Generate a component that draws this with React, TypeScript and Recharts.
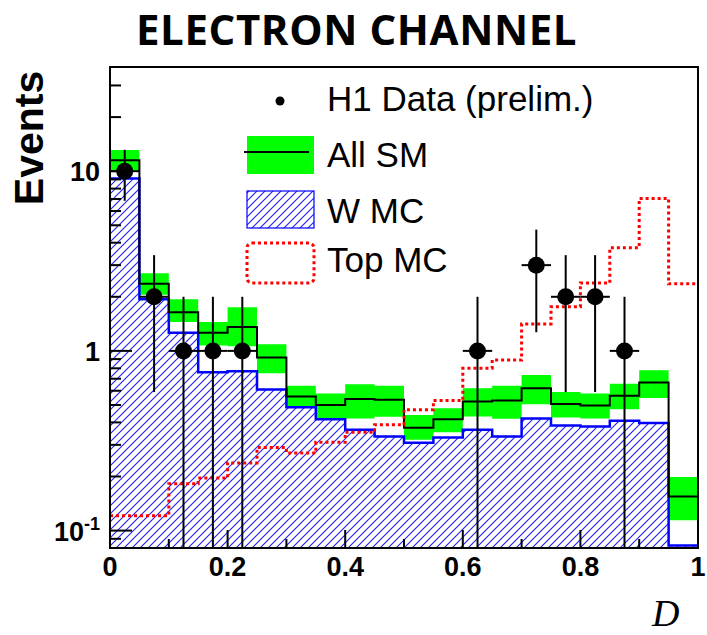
import {
  ComposedChart,
  Area,
  Line,
  Scatter,
  ErrorBar,
  XAxis,
  YAxis,
  ReferenceArea,
} from 'recharts';

// bin edges in D (20 bins of 0.05)
const edges = [0, 0.05, 0.1, 0.15, 0.2, 0.25, 0.3, 0.35, 0.4, 0.45, 0.5, 0.55, 0.6, 0.65, 0.7, 0.75, 0.8, 0.85, 0.9, 0.95, 1.0];

// All SM prediction and its uncertainty band
const allSM = [11.5, 2.36, 1.64, 1.26, 1.36, 0.92, 0.557, 0.5, 0.54, 0.535, 0.373, 0.417, 0.523, 0.53, 0.62, 0.507, 0.497, 0.562, 0.667, 0.155];
const bandLo = [9.9, 2.05, 1.45, 1.07, 1.06, 0.75, 0.486, 0.42, 0.42, 0.43, 0.32, 0.353, 0.432, 0.419, 0.505, 0.426, 0.42, 0.474, 0.546, 0.114];
const bandHi = [13.1, 2.7, 1.94, 1.45, 1.75, 1.09, 0.64, 0.58, 0.653, 0.64, 0.44, 0.48, 0.62, 0.64, 0.735, 0.59, 0.58, 0.656, 0.78, 0.199];

// W MC and Top MC
const wMC = [9.1, 1.94, 1.26, 0.76, 0.77, 0.61, 0.485, 0.417, 0.364, 0.334, 0.308, 0.33, 0.364, 0.334, 0.42, 0.385, 0.38, 0.408, 0.397, 0.0826];
const topMC = [0.121, 0.121, 0.182, 0.196, 0.238, 0.29, 0.27, 0.31, 0.352, 0.388, 0.47, 0.53, 0.8, 0.89, 1.41, 1.76, 2.39, 3.75, 7.05, 2.36];

// H1 data (bin centres), errors; single events reach the axis floor
const dataX = [0.025, 0.075, 0.125, 0.175, 0.225, 0.625, 0.725, 0.775, 0.825, 0.875];
const dataY = [10, 2, 1, 1, 1, 1, 3, 2, 2, 1];
const errLo = [3.16, 1.41, 0.92, 0.92, 0.92, 0.92, 1.73, 1.41, 1.41, 0.92];
const errHi = [3.16, 1.41, 1, 1, 1, 1, 1.73, 1.41, 1.41, 1];
const halfBin = 0.025;

// axis ticks
const xTicks = [0, 0.1, 0.2, 0.3, 0.4, 0.5, 0.6, 0.7, 0.8, 0.9, 1];
const xMajor = [0, 0.2, 0.4, 0.6, 0.8, 1];
const xLabels = ['0', '0.2', '0.4', '0.6', '0.8', '1'];
const yTicks = [0.09, 0.1, 0.2, 0.3, 0.4, 0.5, 0.6, 0.7, 0.8, 0.9, 1, 2, 3, 4, 5, 6, 7, 8, 9, 10, 20, 30];
const yMajor = [0.1, 1, 10];

const rows = edges.map((x, i) => {
  const k = Math.min(i, allSM.length - 1);
  return { x, sm: allSM[k], band: [bandLo[k], bandHi[k]], w: wMC[k], top: topMC[k] };
});

const points = dataX.map((x, i) => ({
  x,
  y: dataY[i],
  ey: [errLo[i], errHi[i]],
  ex: [halfBin, halfBin],
}));

const tickFont = { fontFamily: '"Liberation Sans", Arial, sans-serif', fontWeight: 700, fontSize: 27 };

function XTick({ x, y, payload }: any) {
  const idx = xMajor.indexOf(payload.value);
  const major = idx >= 0;
  return (
    <g>
      <line x1={x} x2={x} y1={y} y2={y - (major ? 18 : 9)} stroke="#000" strokeWidth={2} />
      {major && (
        <text x={x} y={y + 28} textAnchor="middle" fill="#000" style={tickFont}>
          {xLabels[idx]}
        </text>
      )}
    </g>
  );
}

function YTick({ x, y, payload }: any) {
  const v = payload.value;
  const major = yMajor.includes(v);
  let label: any = null;
  if (v === 10) label = '10';
  if (v === 1) label = '1';
  if (v === 0.1)
    label = (
      <>
        <tspan>10</tspan>
        <tspan dy={-11} fontSize={18}>-1</tspan>
      </>
    );
  return (
    <g>
      <line x1={x} x2={x + (major ? 22 : 11)} y1={y} y2={y} stroke="#000" strokeWidth={2} />
      {label && (
        <text x={x - 10} y={y + 10} textAnchor="end" fill="#000" style={tickFont}>
          {label}
        </text>
      )}
    </g>
  );
}

const Dot = (p: any) => <circle cx={p.cx} cy={p.cy} r={8.5} fill="#000" />;

function Overlay() {
  const legendFont = { fontFamily: '"Liberation Sans", Arial, sans-serif', fontSize: 35 };
  return (
    <svg width={707} height={635} style={{ position: 'absolute', left: 0, top: 0, pointerEvents: 'none' }}>
      <defs>
        <pattern id="hatchW" patternUnits="userSpaceOnUse" width={8} height={8}>
          <path d="M0,8 L8,0 M-2,2 L2,-2 M6,10 L10,6" fill="none" stroke="#1f1fff" strokeWidth={1.1} />
        </pattern>
      </defs>
      <text x={136} y={45} style={{ fontFamily: '"Open Sans", sans-serif', fontWeight: 700, fontSize: 42, letterSpacing: 0.6 }} fill="#000">
        ELECTRON CHANNEL
      </text>
      <text
        x={43}
        y={138}
        textAnchor="middle"
        transform="rotate(-90, 43, 138)"
        style={{ fontFamily: '"Liberation Sans", Arial, sans-serif', fontWeight: 700, fontSize: 41 }}
        fill="#000"
      >
        Events
      </text>
      <text x={652} y={626} style={{ fontFamily: '"Liberation Serif", serif', fontStyle: 'italic', fontSize: 38 }} fill="#000">
        D
      </text>

      {/* legend */}
      <circle cx={280} cy={101} r={4.5} fill="#000" />
      <text x={327} y={111} style={legendFont} fill="#000">H1 Data (prelim.)</text>

      <rect x={247} y={136} width={67} height={38} fill="#00ff00" />
      <line x1={244} x2={309} y1={152} y2={152} stroke="#000" strokeWidth={2} />
      <text x={327} y={167} style={legendFont} fill="#000">All SM</text>

      <rect x={247} y={191} width={67} height={37} fill="url(#hatchW)" stroke="#0000ff" strokeWidth={1.2} />
      <text x={327} y={223} style={legendFont} fill="#000">W MC</text>

      <rect x={247} y={243} width={67} height={40} rx={5} fill="none" stroke="#ff0000" strokeWidth={3} strokeDasharray="3 3" />
      <text x={327} y={272} style={legendFont} fill="#000">Top MC</text>
    </svg>
  );
}

export default function App() {
  return (
    <div style={{ position: 'absolute', left: 0, top: 0, width: 707, height: 635, background: '#fff' }}>
      <ComposedChart width={707} height={635} data={rows} margin={{ top: 67, right: 9, bottom: 0, left: 0 }}>
        <XAxis
          dataKey="x"
          type="number"
          domain={[0, 1]}
          ticks={xTicks}
          interval={0}
          tickSize={0}
          tickMargin={0}
          tick={<XTick />}
          height={87}
          axisLine={{ stroke: '#000', strokeWidth: 2 }}
          allowDataOverflow
        />
        <YAxis
          type="number"
          scale="log"
          domain={[0.08, 38]}
          ticks={yTicks}
          interval={0}
          tickSize={0}
          tickMargin={0}
          tick={<YTick />}
          width={110}
          axisLine={{ stroke: '#000', strokeWidth: 2 }}
          allowDataOverflow
        />
        <Area type="stepAfter" dataKey="band" stroke="none" fill="#00ff00" fillOpacity={1} dot={false} activeDot={false} isAnimationActive={false} />
        <Area type="stepAfter" dataKey="w" stroke="#0000ff" strokeWidth={2.5} fill="url(#hatchW)" fillOpacity={1} dot={false} activeDot={false} isAnimationActive={false} />
        <Line type="stepAfter" dataKey="sm" stroke="#000" strokeWidth={2} dot={false} activeDot={false} isAnimationActive={false} />
        <Line type="stepAfter" dataKey="top" stroke="#ff0000" strokeWidth={3} strokeDasharray="3 3" dot={false} activeDot={false} isAnimationActive={false} />
        <Scatter data={points} dataKey="y" shape={Dot} isAnimationActive={false}>
          <ErrorBar dataKey="ey" direction="y" width={0} stroke="#000" strokeWidth={2} isAnimationActive={false} />
          <ErrorBar dataKey="ex" direction="x" width={0} stroke="#000" strokeWidth={2} isAnimationActive={false} />
        </Scatter>
        <ReferenceArea x1={0} x2={1} y1={0.08} y2={38} fill="none" stroke="#000" strokeWidth={2} ifOverflow="visible" />
      </ComposedChart>
      <Overlay />
    </div>
  );
}
